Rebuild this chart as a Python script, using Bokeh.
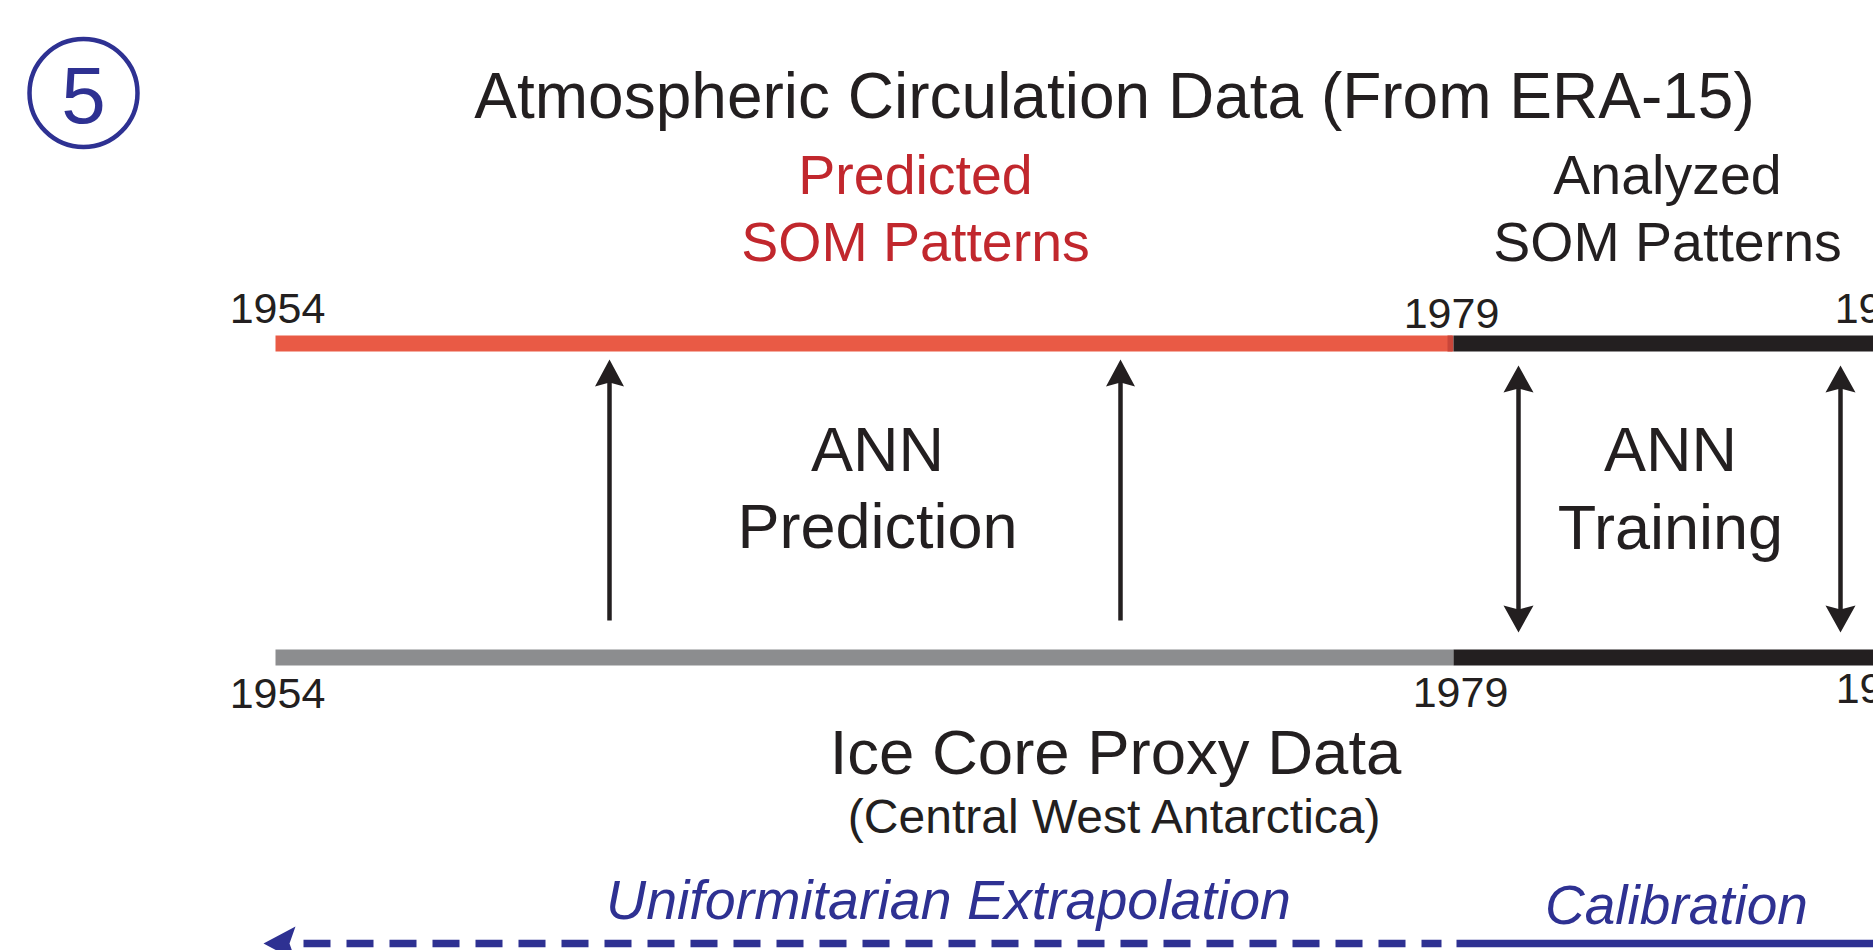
from bokeh.plotting import figure
from bokeh.models import Range1d, ColumnDataSource
from bokeh.embed import file_html
from bokeh.resources import INLINE
from bokeh.core.properties import value

# ---------------- data ----------------
panel_number = "5"
top_title = "Atmospheric Circulation Data (From ERA-15)"
bottom_title = "Ice Core Proxy Data"
bottom_subtitle = "(Central West Antarctica)"
period_years = [1954, 1979, 1993]
year_labels = ["1954", "1979", "1993"]
top_series_lines = [["Predicted", "SOM Patterns"], ["Analyzed", "SOM Patterns"]]
ann_lines = [["ANN", "Prediction"], ["ANN", "Training"]]
method_labels = ["Uniformitarian Extrapolation", "Calibration"]

# ---------------- layout (screen pixels, schematic time axis) ----------------
W, H = 1873, 950
year_x = {1954: 275, 1979: 1452, 1993: 1882}
FONT = value("Liberation Sans")
BLUE = "#2E3192"
BLACK = "#231F20"
RED_BAR = "#E95A45"
RED_TXT = "#C1272D"
GRAY = "#8C8D8F"
BASE_K = 0.34  # baseline correction (fraction of font size)

p = figure(width=W, height=H, x_range=Range1d(0, W), y_range=Range1d(H, 0),
           output_backend="svg", toolbar_location=None, min_border=0,
           x_axis_type=None, y_axis_type=None, outline_line_color=None,
           background_fill_color="white", border_fill_color="white")
p.grid.visible = False
p.styles = {"margin": "0px"}


def txt(xs, ys, texts, size, color, align="center", style="normal"):
    src = ColumnDataSource(dict(x=xs, y=[y - BASE_K * size for y in ys], t=texts))
    p.text(x="x", y="y", text="t", source=src, text_font=FONT,
           text_font_size=value(f"{size}px"), text_color=color,
           text_align=align, text_baseline="alphabetic",
           text_font_style=style)


def head(tx, ty, direction, L, Wd, N):
    # polygon for a stealth arrow head with tip at (tx, ty)
    dx, dy = {"up": (0, 1), "down": (0, -1), "left": (1, 0)}[direction]
    px, py = -dy, dx
    xs = [tx, tx + dx * L + px * Wd / 2, tx + dx * (L - N), tx + dx * L - px * Wd / 2]
    ys = [ty, ty + dy * L + py * Wd / 2, ty + dy * (L - N), ty + dy * L - py * Wd / 2]
    return xs, ys


# panel badge
p.circle(x=[83], y=[92.5], radius=54, fill_color=None, line_color=BLUE, line_width=4.5)
txt([83], [122], [panel_number], 80, BLUE)

# titles
txt([1114], [117], [top_title], 64, BLACK)
txt([915, 915], [193, 260], top_series_lines[0], 55.5, RED_TXT)
txt([1667, 1667], [193, 260], top_series_lines[1], 55.5, BLACK)

# top bar: predicted (red) / analyzed (black)
y0t, y1t = 335, 351
p.quad(left=[year_x[1954]], right=[year_x[1979]], top=[y0t], bottom=[y1t],
       fill_color=RED_BAR, line_color=None)
p.quad(left=[year_x[1979] - 5], right=[year_x[1979] + 1], top=[y0t], bottom=[y1t],
       fill_color="#C9463A", line_color=None)
p.quad(left=[year_x[1979] + 1], right=[year_x[1993]], top=[y0t], bottom=[y1t],
       fill_color=BLACK, line_color=None)

# bottom bar: ice core (gray) / overlap (black)
y0b, y1b = 649, 665
p.quad(left=[year_x[1954]], right=[year_x[1979] + 1], top=[y0b], bottom=[y1b],
       fill_color=GRAY, line_color=None)
p.quad(left=[year_x[1979] + 1], right=[year_x[1993]], top=[y0b], bottom=[y1b],
       fill_color=BLACK, line_color=None)

# year labels
txt([277, 1451, 1882], [323, 328, 323], year_labels, 43, BLACK)
txt([277, 1460, 1883], [708, 707, 703], year_labels, 43, BLACK)

# ANN prediction arrows (up only)
pred_x = [609, 1120]
p.segment(x0=pred_x, y0=[620, 620], x1=pred_x, y1=[380, 380], line_color=BLACK, line_width=4.5)
for x in pred_x:
    hx, hy = head(x, 359, "up", 27, 29, 4)
    p.patch(hx, hy, fill_color=BLACK, line_color=None)

# ANN training arrows (double)
train_x = [1518, 1840]
p.segment(x0=train_x, y0=[385, 385], x1=train_x, y1=[612, 612], line_color=BLACK, line_width=4.5)
for x in train_x:
    hx, hy = head(x, 365, "up", 27, 30, 4)
    p.patch(hx, hy, fill_color=BLACK, line_color=None)
    hx, hy = head(x, 632, "down", 27, 30, 4)
    p.patch(hx, hy, fill_color=BLACK, line_color=None)

txt([877, 877], [470, 547], ann_lines[0], 63, BLACK)
txt([1670, 1670], [470, 548], ann_lines[1], 63, BLACK)

# bottom titles
txt([1115], [773], [bottom_title], 63.5, BLACK)
txt([1115], [832], [bottom_subtitle], 48, BLACK)

# methods
txt([948], [918], [method_labels[0]], 55.5, BLUE, style="italic")
txt([1676], [923], [method_labels[1]], 55, BLUE, style="italic")

p.line(x=[303, 1441], y=[943, 943], line_color=BLUE, line_width=7.5, line_dash="27 16")
p.line(x=[1456, 1900], y=[943, 943], line_color=BLUE, line_width=7.5)
hx, hy = head(263, 943, "left", 32, 34, 6)
p.patch(hx, hy, fill_color=BLUE, line_color=None)

open("out.html", "w").write(file_html(p, INLINE))
